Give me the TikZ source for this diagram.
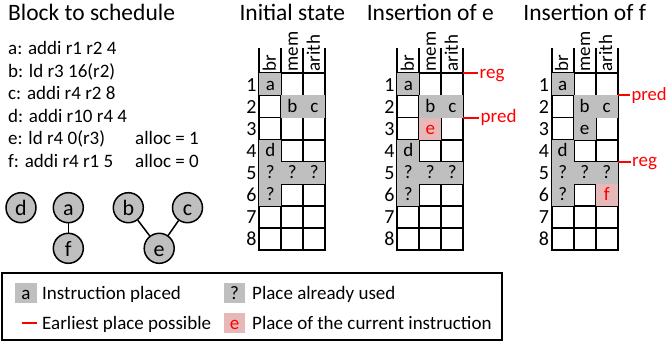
\documentclass[tikz,border=0pt]{standalone}
\usepackage{fontspec}
\setmainfont{Carlito}
\definecolor{cellgray}{HTML}{BFBFBF}
\definecolor{cellpink}{HTML}{E6B8B7}
\definecolor{markred}{HTML}{FF0000}
\newcommand{\gy}{73.3}
\newcommand{\gh}{22.1}
\newcommand{\drawgrid}[2]{%
  \foreach \i in {0,...,3} \draw[gl] ({#1+22*\i},49) -- ({#1+22*\i},{\gy+8*\gh});
  \foreach \j in {0,...,8} \draw[gl] (#1,{\gy+\gh*\j}) -- ({#1+66},{\gy+\gh*\j});
  \foreach \r in {1,...,8} \node[rownum] (#2r\r) at ({#1-2.5},{\gy+\gh*(\r-0.5)+6.8}) {\r};
  \node[hdr] (#2hbr) at ({#1+11+5.5},71.6) {br};
  \node[hdr] (#2hmem) at ({#1+33+5.5},71.6) {mem};
  \node[hdr] (#2harith) at ({#1+55+5.5},71.6) {arith};
}
\newcommand{\fillrange}[6]{%
  \fill[#6] ({#1+22*(#2-1)},{\gy+\gh*(#3-1)}) rectangle ({#1+22*#4},{\gy+\gh*#5});
}
\newcommand{\putcell}[6]{%
  \node[celltxt,#5] (#1) at ({#2+22*(#3-0.5)},{\gy+\gh*(#4-0.5)}) {#6};
}
\begin{document}
\begin{tikzpicture}[x=1pt,y=-1pt,
  gl/.style={line width=1.8pt, line cap=rect},
  titletxt/.style={font=\fontsize{23.5}{28}\selectfont, anchor=base, inner sep=0pt},
  txt/.style={font=\fontsize{19}{23}\selectfont, anchor=base west, inner sep=0pt},
  hdr/.style={font=\fontsize{19}{23}\selectfont, rotate=90, anchor=base west, inner sep=0pt},
  rownum/.style={font=\fontsize{20}{24}\selectfont, anchor=base east, inner sep=0pt},
  celltxt/.style={font=\fontsize{19}{23}\selectfont, text height=12pt, text depth=0pt, inner sep=0pt, anchor=center},
  gnode/.style={circle, draw, fill=cellgray, line width=1.5pt, minimum size=30pt, inner sep=0pt,
    font=\fontsize{22}{26}\selectfont, text height=16pt, text depth=0pt},
  gedge/.style={line width=1.5pt},
  redline/.style={draw=markred, line width=2pt, shorten >=1.5pt},
  redtxt/.style={text=markred, font=\fontsize{19}{23}\selectfont, anchor=base west, inner sep=0pt},
  legsq/.style={minimum width=21.5pt, minimum height=20pt, inner sep=0pt,
    font=\fontsize{19}{23}\selectfont, text height=12pt, text depth=0pt},
]
\useasboundingbox (0,0) rectangle (667,343);

% ---------- Block to schedule ----------
\node[titletxt, anchor=base west] (tblock) at (8,20.5) {Block to schedule};
\node[txt] (la) at (8,54.3) {a: addi r1 r2 4};
\node[txt] (lb) at (8,77.0) {b: ld r3 16(r2)};
\node[txt] (lc) at (8,99.6) {c: addi r4 r2 8};
\node[txt] (ld) at (8,122.3) {d: addi r10 r4 4};
\node[txt] (le) at (8,144.9) {e: ld r4 0(r3)};
\node[txt] (lf) at (8,167.5) {f: addi r4 r1 5};
\node[txt] (alle) at (135,144.9) {alloc = 1};
\node[txt] (allf) at (135,167.5) {alloc = 0};

% dependency graph
\node[gnode] (nd) at (21,207.7) {d};
\node[gnode] (na) at (68.3,207.7) {a};
\node[gnode] (nf) at (68.3,248.3) {f};
\node[gnode] (nb) at (128.3,207.7) {b};
\node[gnode] (nc) at (187.5,207.7) {c};
\node[gnode] (ne) at (159.2,248.3) {e};
\draw[gedge] (na) -- (nf);
\draw[gedge] (nb) -- (ne);
\draw[gedge] (nc) -- (ne);

% ---------- Titles ----------
\node[titletxt] (tinit) at (292.3,20.8) {Initial state};
\node[titletxt] (tinse) at (430.3,20.8) {Insertion of e};
\node[titletxt] (tinsf) at (584.7,20.8) {Insertion of f};

% ---------- Grid 1: initial state ----------
\drawgrid{259.3}{ga}
\fillrange{259.3}{1}{1}{1}{1}{cellgray}
\fillrange{259.3}{2}{2}{3}{2}{cellgray}
\fillrange{259.3}{1}{4}{1}{6}{cellgray}
\fillrange{259.3}{1}{5}{3}{5}{cellgray}
\putcell{ga1}{259.3}{1}{1}{}{a}
\putcell{ga2}{259.3}{2}{2}{}{b}
\putcell{ga3}{259.3}{3}{2}{}{c}
\putcell{ga4}{259.3}{1}{4}{}{d}
\putcell{ga5}{259.3}{1}{5}{}{?}
\putcell{ga6}{259.3}{2}{5}{}{?}
\putcell{ga7}{259.3}{3}{5}{}{?}
\putcell{ga8}{259.3}{1}{6}{}{?}

% ---------- Grid 2: insertion of e ----------
\drawgrid{397.3}{gb}
\fillrange{397.3}{1}{1}{1}{1}{cellgray}
\fillrange{397.3}{2}{2}{3}{2}{cellgray}
\fillrange{397.3}{1}{4}{1}{6}{cellgray}
\fillrange{397.3}{1}{5}{3}{5}{cellgray}
\fillrange{397.3}{2}{3}{2}{3}{cellpink}
\putcell{gb1}{397.3}{1}{1}{}{a}
\putcell{gb2}{397.3}{2}{2}{}{b}
\putcell{gb3}{397.3}{3}{2}{}{c}
\putcell{gb4}{397.3}{1}{4}{}{d}
\putcell{gb5}{397.3}{1}{5}{}{?}
\putcell{gb6}{397.3}{2}{5}{}{?}
\putcell{gb7}{397.3}{3}{5}{}{?}
\putcell{gb8}{397.3}{1}{6}{}{?}
\putcell{gb9}{397.3}{2}{3}{text=markred}{e}
\coordinate (gbreg) at (463.3,73.3);
\node[redtxt] (gbregl) at (479.5,78.0) {reg};
\draw[redline] (gbreg) -- (gbreg -| gbregl.west);
\coordinate (gbpred) at (463.3,117.5);
\node[redtxt] (gbpredl) at (480.5,122.2) {pred};
\draw[redline] (gbpred) -- (gbpred -| gbpredl.west);

% ---------- Grid 3: insertion of f ----------
\drawgrid{551.7}{gc}
\fillrange{551.7}{1}{1}{1}{1}{cellgray}
\fillrange{551.7}{2}{2}{3}{2}{cellgray}
\fillrange{551.7}{2}{3}{2}{3}{cellgray}
\fillrange{551.7}{1}{4}{1}{6}{cellgray}
\fillrange{551.7}{1}{5}{3}{5}{cellgray}
\fillrange{551.7}{3}{6}{3}{6}{cellpink}
\putcell{gc1}{551.7}{1}{1}{}{a}
\putcell{gc2}{551.7}{2}{2}{}{b}
\putcell{gc3}{551.7}{3}{2}{}{c}
\putcell{gc4}{551.7}{2}{3}{}{e}
\putcell{gc5}{551.7}{1}{4}{}{d}
\putcell{gc6}{551.7}{1}{5}{}{?}
\putcell{gc7}{551.7}{2}{5}{}{?}
\putcell{gc8}{551.7}{3}{5}{}{?}
\putcell{gc9}{551.7}{1}{6}{}{?}
\putcell{gc10}{551.7}{3}{6}{text=markred}{f}
\coordinate (gcpred) at (617.7,95.4);
\node[redtxt, font=\fontsize{18.6}{22}\selectfont] (gcpredl) at (631.3,100.1) {pred};
\draw[redline] (gcpred) -- (gcpred -| gcpredl.west);
\coordinate (gcreg) at (617.7,161.7);
\node[redtxt] (gcregl) at (632,166.4) {reg};
\draw[redline] (gcreg) -- (gcreg -| gcregl.west);

% ---------- Legend ----------
\draw[line width=1.5pt] (2,273) rectangle (502,340);
\node[legsq, fill=cellgray] (lega) at (26,293) {a};
\node[txt] (legat) at (42,299.5) {Instruction placed};
\node[legsq, fill=cellgray] (legq) at (234.5,293) {?};
\node[txt] (legqt) at (252,299.5) {Place already used};
\coordinate (legr) at (21.7,323.3);
\node[txt] (legrt) at (42,329.5) {Earliest place possible};
\draw[redline, shorten >=5pt] (legr) -- (legr -| legrt.west);
\node[legsq, fill=cellpink, text=markred] (lege) at (234.5,323) {e};
\node[txt] (leget) at (252,329.5) {Place of the current instruction};
\end{tikzpicture}
\end{document}
